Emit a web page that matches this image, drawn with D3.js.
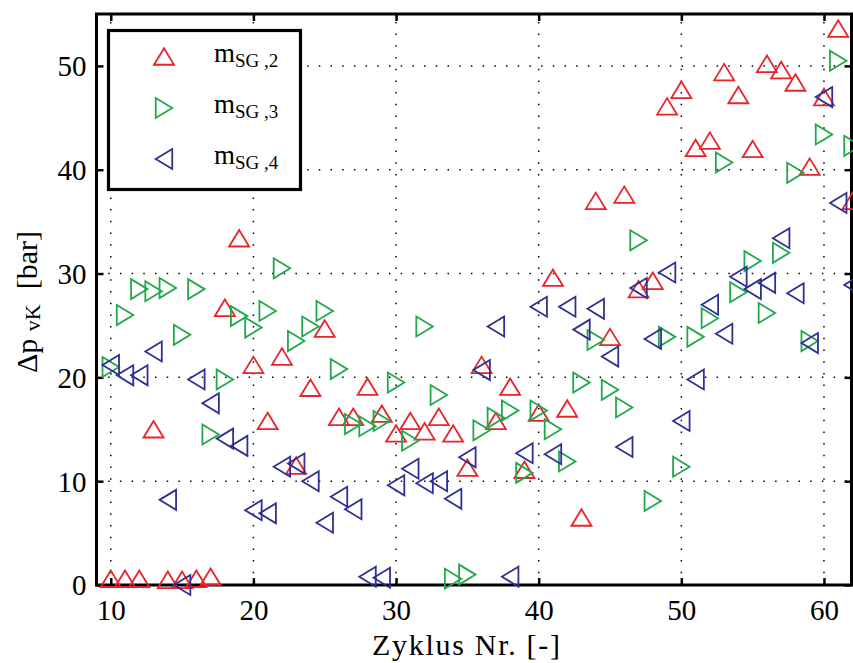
<!DOCTYPE html>
<html>
<head>
<meta charset="utf-8">
<script src="https://cdn.jsdelivr.net/npm/d3@7"></script>
<style>
  html, body { margin: 0; padding: 0; background: #fff; }
  svg { display: block; }
</style>
</head>
<body>
<svg id="chart" width="853" height="663"></svg>
<script>
// Cycle numbers (Zyklus Nr.)
const cycles = d3.range(10, 63);

// Δp_VK [bar] per cycle for each measuring point
const mSG2 = [0.6, 0.6, 0.6, 15.0, 0.5, 0.5, 0.6, 0.8, 26.7, 33.4,
              21.2, 15.8, 22.0, 11.5, 19.0, 24.7, 16.2, 16.2, 19.1, 16.5,
              14.6, 15.8, 14.8, 16.2, 14.6, 11.3, 21.2, 15.8, 19.1, 11.1,
              16.6, 29.6, 17.0, 6.5, 37.0, 23.9, 37.6, 28.5, 29.3, 46.1,
              47.7, 42.1, 42.8, 49.4, 47.2, 42.0, 50.2, 49.6, 48.4, 40.3,
              47.0, 53.6, 37.0];
const mSG3 = [21.0, 26.0, 28.5, 28.3, 28.6, 24.1, 28.5, 14.5, 19.8, 25.9,
              24.8, 26.4, 30.5, 23.5, 24.9, 26.4, 20.8, 15.5, 15.3, 15.8,
              19.5, 13.9, 24.9, 18.3, 0.6, 1.0, 14.9, 16.1, 16.8, 10.8,
              16.8, 15.0, 11.9, 19.5, 23.6, 18.8, 17.1, 33.2, 8.1, 23.9,
              11.4, 23.9, 25.7, 40.7, 28.2, 31.2, 26.2, 32.0, 39.7, 23.5,
              43.4, 50.5, 42.3];
const mSG4 = [21.2, 20.2, 20.2, 22.5, 8.2, 0.0, 19.8, 17.5, 14.1, 13.4,
              7.2, 6.9, 11.4, 11.7, 10.0, 6.0, 8.5, 7.3, 0.8, 0.7,
              9.6, 11.2, 9.8, 10.0, 8.3, 12.3, 20.7, 24.9, 0.8, 12.7,
              26.8, 12.6, 26.8, 24.6, 26.6, 22.0, 13.3, 28.6, 23.7, 30.1,
              15.8, 19.8, 27.0, 24.2, 29.7, 28.5, 29.1, 33.4, 28.1, 23.3,
              47.0, 36.8, 28.9];

const xTicks = [10, 20, 30, 40, 50, 60];
const yTicks = [0, 10, 20, 30, 40, 50];

const seriesNames = ["2", "3", "4"];
const seriesColors = ["#e8232a", "#22a84a", "#2e3192"];
const seriesShapes = ["up", "right", "left"];
const seriesValues = [mSG2, mSG3, mSG4];

const FONT = "Liberation Serif";

const svg = d3.select("#chart");
const plotL = 96.5, plotR = 852.5, plotT = 14, plotB = 585;

const x = d3.scaleLinear().domain([9, 62]).range([plotL, plotR]);
const y = d3.scaleLinear().domain([0, 55]).range([plotB, plotT]);

// dotted grid
const grid = svg.append("g").attr("stroke", "#000").attr("stroke-width", 1.5)
  .attr("stroke-dasharray", "1.5,10.2").attr("fill", "none");
xTicks.forEach(t => grid.append("line")
  .attr("x1", x(t)).attr("x2", x(t)).attr("y1", plotB).attr("y2", plotT));
yTicks.filter(t => t > 0).forEach(t => grid.append("line")
  .attr("x1", plotL).attr("x2", plotR).attr("y1", y(t)).attr("y2", y(t)));

// axes with inward ticks on all four sides
const tick = 7;
const axB = svg.append("g").attr("transform", `translate(0,${plotB})`)
  .call(d3.axisBottom(x).tickValues(xTicks).tickSizeInner(-tick).tickSizeOuter(0).tickPadding(14));
const axT = svg.append("g").attr("transform", `translate(0,${plotT})`)
  .call(d3.axisTop(x).tickValues(xTicks).tickSizeInner(-tick).tickSizeOuter(0).tickFormat(""));
const axL = svg.append("g").attr("transform", `translate(${plotL},0)`)
  .call(d3.axisLeft(y).tickValues(yTicks).tickSizeInner(-tick).tickSizeOuter(0).tickPadding(10));
const axR = svg.append("g").attr("transform", `translate(${plotR - 1},0)`)
  .call(d3.axisRight(y).tickValues(yTicks).tickSizeInner(-tick).tickSizeOuter(0).tickFormat(""));
[axB, axT, axL, axR].forEach(a => {
  a.attr("font-family", FONT).attr("font-size", 29);
  a.select(".domain").remove();
  a.selectAll(".tick line").attr("stroke", "#000").attr("stroke-width", 2.5);
  a.selectAll(".tick text").attr("fill", "#000");
});
axL.selectAll(".tick text").attr("dy", "0.34em");

// frame
svg.append("rect").attr("x", plotL).attr("y", plotT)
  .attr("width", plotR - 1 - plotL).attr("height", plotB - plotT)
  .attr("fill", "none").attr("stroke", "#000").attr("stroke-width", 3);

// marker path builder: triangles centred on their bounding box
const L = 10, S = 8.25;
function tri(shape, cx, cy) {
  if (shape === "up")
    return `M${cx - L},${cy + S}L${cx},${cy - S}L${cx + L},${cy + S}Z`;
  if (shape === "right")
    return `M${cx - S},${cy - L}L${cx + S},${cy}L${cx - S},${cy + L}Z`;
  return `M${cx + S},${cy - L}L${cx - S},${cy}L${cx + S},${cy + L}Z`;
}

seriesValues.forEach((vals, i) => {
  svg.append("g").selectAll("path")
    .data(cycles.map((c, k) => ({ c, v: vals[k] })))
    .join("path")
    .attr("d", d => tri(seriesShapes[i], x(d.c), y(d.v)))
    .attr("fill", "none")
    .attr("stroke", seriesColors[i])
    .attr("stroke-width", 1.8)
    .attr("stroke-linejoin", "miter");
});

// axis titles
svg.append("text").attr("x", 372).attr("y", 655)
  .attr("font-family", FONT).attr("font-size", 30)
  .attr("textLength", 188).attr("lengthAdjust", "spacing")
  .text("Zyklus Nr. [-]");

const yl = svg.append("text")
  .attr("transform", `translate(37,302) rotate(-90)`)
  .attr("text-anchor", "middle")
  .attr("font-family", FONT).attr("font-size", 30);
yl.append("tspan").text("Δp ");
yl.append("tspan").attr("font-size", 22).attr("dy", 3).text("vK");
yl.append("tspan").attr("dy", -3).text("\u00a0\u00a0[bar]");

// legend
const lg = svg.append("g");
lg.append("rect").attr("x", 108.5).attr("y", 30.5).attr("width", 192).attr("height", 159)
  .attr("fill", "#fff").attr("stroke", "#000").attr("stroke-width", 3.2);
const rowY = [56.5, 108, 159];
seriesNames.forEach((n, i) => {
  lg.append("path").attr("d", tri(seriesShapes[i], 164, rowY[i]))
    .attr("fill", "none").attr("stroke", seriesColors[i]).attr("stroke-width", 1.8);
  const t = lg.append("text").attr("x", 214).attr("y", rowY[i] + 5)
    .attr("font-family", FONT).attr("font-size", 27);
  t.append("tspan").text("m");
  t.append("tspan").attr("font-size", 19).attr("dy", 5).text("SG ," + n);
});
</script>
</body>
</html>
